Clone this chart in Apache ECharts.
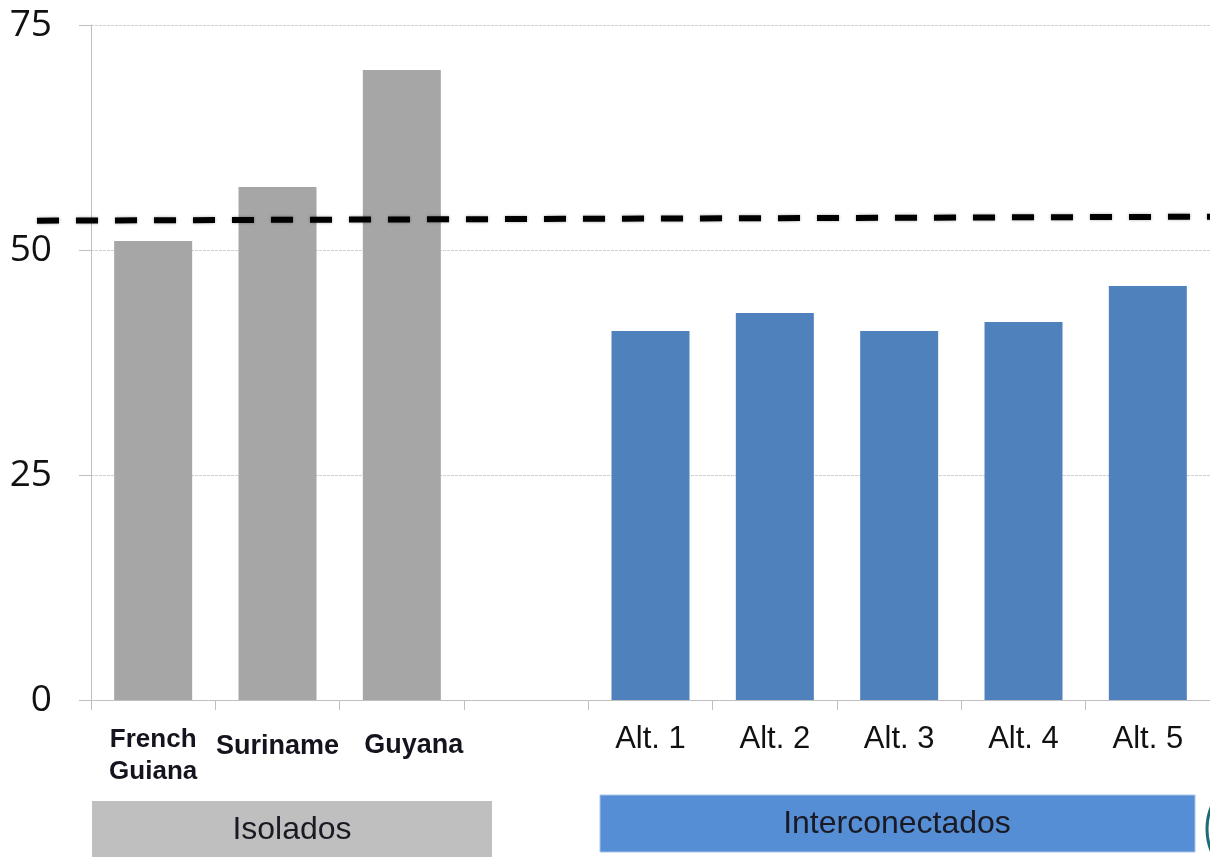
<!DOCTYPE html>
<html>
<head>
<meta charset="utf-8">
<script src="https://cdn.jsdelivr.net/npm/echarts@6/dist/echarts.min.js"></script>
<style>
  html, body { margin: 0; padding: 0; background: #ffffff; }
  #chart { width: 1210px; height: 857px; }
</style>
</head>
<body>
<div id="chart"></div>
<script>
// Categories along the bottom axis (one empty slot separates the two groups)
const categories = ['French Guiana', 'Suriname', 'Guyana', '', 'Alt. 1', 'Alt. 2', 'Alt. 3', 'Alt. 4', 'Alt. 5'];
const isolatedNames = ['French Guiana', 'Suriname', 'Guyana'];
const isolatedValues = [51, 57, 70];
const interconnectedNames = ['Alt. 1', 'Alt. 2', 'Alt. 3', 'Alt. 4', 'Alt. 5'];
const interconnectedValues = [41, 43, 41, 42, 46];
const yTicks = [0, 25, 50, 75];
// Reference level drawn as a dashed line across the chart (start / end)
const referenceLevel = [53.26, 53.7];
const groupLabels = ['Isolados', 'Interconectados'];

function seriesData(names, values) {
  return categories.map(c => {
    const i = names.indexOf(c);
    return i >= 0 ? values[i] : '-';
  });
}

const chart = echarts.init(document.getElementById('chart'), null, { renderer: 'canvas' });

const axisGray = '#bfbfbf';

chart.setOption({
  animation: false,
  backgroundColor: '#ffffff',
  grid: [
    { left: 91, top: 25, width: 1120, height: 675 },
    { left: 37, top: 25, right: 0, height: 675 }
  ],
  xAxis: [
    {
      gridIndex: 0,
      type: 'category',
      data: categories,
      boundaryGap: true,
      axisLine: { show: true, lineStyle: { color: axisGray, width: 1 } },
      axisTick: { show: true, length: 10, interval: 0, alignWithLabel: false, lineStyle: { color: axisGray } },
      axisLabel: {
        interval: 0,
        margin: 24,
        color: '#111',
        formatter: function (v) {
          if (v === '') return '';
          if (v === 'French Guiana') return '{b|French}\n{b|Guiana}';
          if (v === 'Suriname') return '{s|' + v + '}';
          if (v === 'Guyana') return '{g|' + v + '}';
          return '{a|' + v + '}';
        },
        rich: {
          b: { fontFamily: 'Liberation Sans', fontWeight: 'bold', fontSize: 26, lineHeight: 32, color: '#14141e' },
          s: { fontFamily: 'Liberation Sans', fontWeight: 'bold', fontSize: 27, lineHeight: 32, color: '#14141e', padding: [14, 0, 0, 0] },
          g: { fontFamily: 'Liberation Sans', fontWeight: 'bold', fontSize: 27, lineHeight: 32, color: '#14141e', padding: [11, 0, 0, 24] },
          a: { fontFamily: 'Liberation Sans', fontSize: 31, lineHeight: 30, color: '#111', padding: [1, 0, 0, 0] }
        }
      },
      splitLine: { show: false }
    },
    { gridIndex: 1, type: 'value', min: 0, max: 1, show: false }
  ],
  yAxis: [
    {
      gridIndex: 0,
      type: 'value',
      min: yTicks[0],
      max: yTicks[yTicks.length - 1],
      interval: yTicks[1] - yTicks[0],
      axisLine: { show: true, lineStyle: { color: axisGray, width: 1 } },
      axisTick: { show: true, length: 12, lineStyle: { color: axisGray } },
      axisLabel: {
        margin: 39,
        fontFamily: 'Open Sans',
        fontSize: 37,
        color: '#111'
      },
      splitLine: { show: true, lineStyle: { color: '#cfcfcf', width: 1, type: [3, 1] } }
    },
    { gridIndex: 1, type: 'value', min: yTicks[0], max: yTicks[yTicks.length - 1], show: false }
  ],
  series: [
    {
      name: groupLabels[0],
      type: 'bar',
      xAxisIndex: 0, yAxisIndex: 0,
      stack: 'groups',
      barWidth: 78,
      data: seriesData(isolatedNames, isolatedValues),
      itemStyle: { color: '#a6a6a6' }
    },
    {
      name: groupLabels[1],
      type: 'bar',
      xAxisIndex: 0, yAxisIndex: 0,
      stack: 'groups',
      barWidth: 78,
      data: seriesData(interconnectedNames, interconnectedValues),
      itemStyle: { color: '#4f81bd' }
    },
    {
      name: 'reference',
      type: 'line',
      xAxisIndex: 1, yAxisIndex: 1,
      symbol: 'none',
      z: 10,
      data: [[0, referenceLevel[0]], [1, referenceLevel[1]]],
      lineStyle: {
        color: '#000',
        width: 6,
        type: [22, 17],
        cap: 'butt',
        shadowColor: 'rgba(0,0,0,0.35)',
        shadowBlur: 3
      }
    }
  ],
  graphic: [
    {
      type: 'rect',
      shape: { x: 92, y: 801, width: 400, height: 60 },
      style: { fill: '#bfbfbf' }
    },
    {
      type: 'text',
      x: 292, y: 830,
      style: {
        text: groupLabels[0],
        fontFamily: 'Liberation Sans',
        fontSize: 32,
        fill: '#1a1a24',
        align: 'center',
        verticalAlign: 'middle'
      }
    },
    {
      type: 'rect',
      shape: { x: 600, y: 795, width: 595, height: 57 },
      style: { fill: '#558ed5', stroke: '#a9c4ea', lineWidth: 1 }
    },
    {
      type: 'text',
      x: 897, y: 824,
      style: {
        text: groupLabels[1],
        fontFamily: 'Liberation Sans',
        fontSize: 32,
        fill: '#1a1a24',
        align: 'center',
        verticalAlign: 'middle'
      }
    },
    {
      type: 'circle',
      shape: { cx: 1264, cy: 829, r: 57 },
      style: { fill: 'none', stroke: '#1d6b78', lineWidth: 3 }
    }
  ]
});
</script>
</body>
</html>
